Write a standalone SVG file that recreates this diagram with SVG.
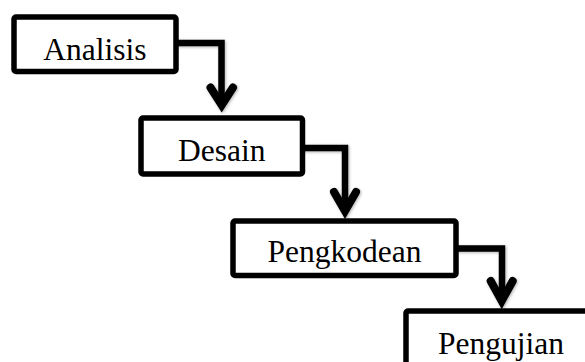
<svg xmlns="http://www.w3.org/2000/svg" width="585" height="362" viewBox="0 0 585 362">
  <defs>
    <filter id="sh" x="-20%" y="-20%" width="140%" height="140%">
      <feDropShadow dx="1" dy="1" stdDeviation="1.5" flood-color="#000" flood-opacity="0.3"/>
    </filter>
  </defs>
  <style>
    .box { fill: #fff; stroke: #000; stroke-width: 5.5; }
    .lbl { font-family: "Liberation Serif", "Times New Roman", serif; font-size: 31.5px; fill: #000; text-anchor: middle; }
    .stem { fill: none; stroke: #000; stroke-width: 6.5; stroke-linejoin: miter; }
    .head { fill: none; stroke: #000; stroke-width: 8; stroke-linecap: round; stroke-linejoin: miter; stroke-miterlimit: 10; }
  </style>
  <rect width="585" height="362" fill="#fff"/>
  <g id="connectors" filter="url(#sh)">
    <path class="stem" d="M176,43 H221.5 V104"/>
    <path class="head" d="M210.5,87.5 L221.7,105 L233,87.5"/>
    <path class="stem" d="M302.5,148 H345 V210"/>
    <path class="head" d="M334,192 L345,211 L356,192"/>
    <path class="stem" d="M456,248.5 H502 V300"/>
    <path class="head" d="M490.7,281 L501.7,301 L512.7,281"/>
  </g>
  <g id="analisis">
    <rect class="box" x="14" y="17" width="162" height="54.5" rx="2"/>
    <text class="lbl" x="95" y="59.5">Analisis</text>
  </g>
  <g id="desain">
    <rect class="box" x="141" y="118" width="161.5" height="56" rx="2"/>
    <text class="lbl" x="221.7" y="161">Desain</text>
  </g>
  <g id="pengkodean">
    <rect class="box" x="233" y="221" width="223" height="54.5" rx="2"/>
    <text class="lbl" x="344.5" y="262">Pengkodean</text>
  </g>
  <g id="pengujian">
    <rect class="box" x="406" y="311" width="200" height="70" rx="2"/>
    <text class="lbl" x="501" y="353.5">Pengujian</text>
  </g>
</svg>
